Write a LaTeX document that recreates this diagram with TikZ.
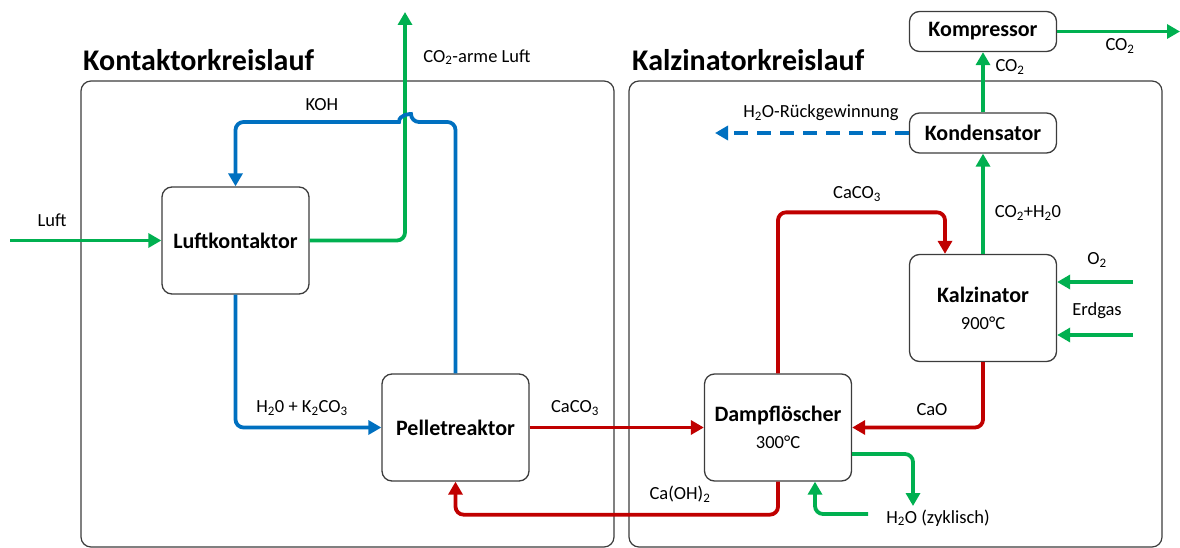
\documentclass[tikz,border=0pt]{standalone}
\usepackage{fontspec}
\setmainfont{Carlito}
\usetikzlibrary{arrows.meta}
\definecolor{flowgreen}{RGB}{0,176,80}
\definecolor{flowblue}{RGB}{0,112,192}
\definecolor{flowred}{RGB}{192,0,0}
\definecolor{boxline}{RGB}{60,60,60}
\newcommand{\sub}[1]{\textsubscript{#1}}
\newcommand{\tempfont}{\fontsize{18.5}{21}\selectfont\mdseries}
\begin{document}
\begin{tikzpicture}[x=1pt,y=-1pt,
  unit/.style={draw=boxline, line width=1.3pt, rounded corners=10pt, fill=white,
    minimum width=147pt, minimum height=107pt, align=center, inner sep=0pt,
    font=\fontsize{22}{25}\selectfont\bfseries},
  smallunit/.style={unit, minimum height=40pt},
  frame/.style={draw=boxline, line width=1.2pt, rounded corners=10pt},
  title/.style={anchor=west, inner sep=0pt, font=\fontsize{30}{34}\selectfont\bfseries},
  lbl/.style={inner sep=0pt, font=\fontsize{18.5}{21}\selectfont},
  flow/.style={line width=3.8pt, -{Triangle[length=13pt,width=14pt]}},
  gflow/.style={flow, draw=flowgreen},
  bflow/.style={flow, draw=flowblue},
  rflow/.style={flow, draw=flowred},
  rc/.style={rounded corners=8pt}
]
\useasboundingbox (0,0) rectangle (1180,548);

% the two process loops
\draw[frame] (81,81) rectangle (614,547);
\draw[frame] (629,81) rectangle (1162,547);
\node[title] (t1) at (83,60) {Kontaktorkreislauf};
\node[title] (t2) at (632,60) {Kalzinatorkreislauf};

% units
\node[unit] (lk) at (235.5,240.5) {Luftkontaktor};
\node[unit] (pr) at (455.5,427.5) {Pelletreaktor};
\node[unit] (dl) at (778,427.5) {Dampflöscher\\[2pt]{\tempfont 300°C}};
\node[unit] (kz) at (983,308) {Kalzinator\\[2pt]{\tempfont 900°C}};
\node[smallunit] (kd) at (983,133) {Kondensator};
\node[smallunit] (kp) at (983,31.5) {Kompressor};

% free ends of the streams
\coordinate (luftin) at (10,240.5);
\coordinate (armeout) at (405,12);
\coordinate (hopR) at (411,122);
\coordinate (hopL) at (399,122);
\coordinate (co2out) at (1180,31.5);
\coordinate (h2oout) at (715,133);
\coordinate (o2in) at (1133,282);
\coordinate (gasin) at (1133,335);
\coordinate (h2ozout) at (913,506);
\coordinate (h2ozin) at (868,514);

% contactor loop
\draw[gflow] (luftin) -- (lk.west);
\draw[gflow, rc] (lk.east) -| (armeout);
\draw[bflow] (pr.north) [rc] |- (hopR) [sharp corners]
  .. controls (411,114) and (399,114) .. (hopL) [rc] -| (lk.north);
\draw[bflow, rc] (lk.south) |- (pr.west);

% calciner loop
\draw[rflow] (pr.east) -- (dl.west);
\draw[rflow, rc] (dl.south) -- ++(0,33) -| (pr.south);
\draw[rflow, rc] (dl.north) -- ++(0,-161) -| ([xshift=-38pt]kz.north);
\draw[rflow, rc] (kz.south) |- (dl.east);
\draw[gflow] (kz.north) -- (kd.south);
\draw[gflow] (kd.north) -- (kp.south);
\draw[gflow] (kp.east) -- (co2out);
\draw[bflow, dash pattern=on 14pt off 9pt] (kd.west) -- (h2oout);
\draw[gflow] (o2in) -- (kz.east |- o2in);
\draw[gflow] (gasin) -- (kz.east |- gasin);
\draw[gflow, rc] ([yshift=-26.5pt]dl.east) -| (h2ozout);
\draw[gflow, rc] (h2ozin) -| ([xshift=37pt]dl.south);

% stream labels
\node[lbl] (l1) at (52,220) {Luft};
\node[lbl] (l2) at (477,57) {CO\sub{2}-arme Luft};
\node[lbl] (l3) at (322,105) {KOH};
\node[lbl] (l4) at (302,408) {H\sub{2}0 + K\sub{2}CO\sub{3}};
\node[lbl] (l5) at (575,408) {CaCO\sub{3}};
\node[lbl] (l6) at (680,494) {Ca(OH)\sub{2}};
\node[lbl] (l7) at (857,194) {CaCO\sub{3}};
\node[lbl] (l8) at (932,410) {CaO};
\node[lbl] (l9) at (938,518) {H\sub{2}O (zyklisch)};
\node[lbl] (l10) at (1028,213) {CO\sub{2}+H\sub{2}0};
\node[lbl] (l11) at (1097,260) {O\sub{2}};
\node[lbl] (l12) at (1097,311) {Erdgas};
\node[lbl] (l13) at (821,113) {H\sub{2}O-Rückgewinnung};
\node[lbl] (l14) at (1010,67) {CO\sub{2}};
\node[lbl] (l15) at (1120,46) {CO\sub{2}};
\end{tikzpicture}
\end{document}
